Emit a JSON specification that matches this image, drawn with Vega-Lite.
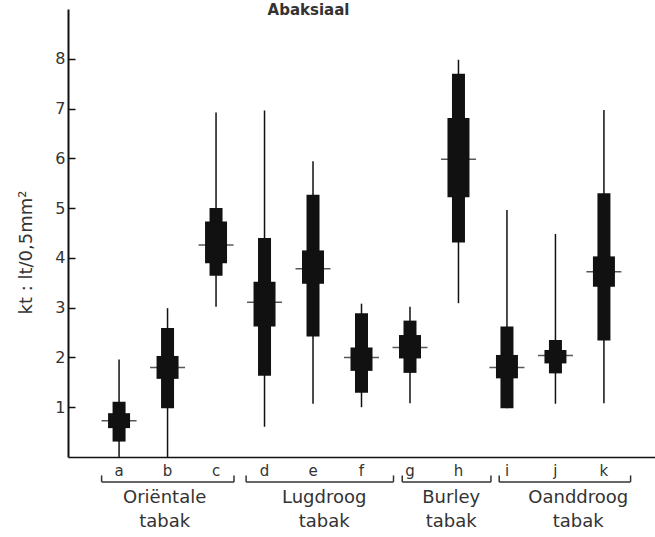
{
  "$schema": "https://vega.github.io/schema/vega-lite/v6.json",
  "autosize": {"type": "none"},
  "width": 587,
  "height": 448,
  "padding": {"left": 68, "top": 9, "right": 0, "bottom": 80},
  "background": "white",
  "config": {"view": {"stroke": null}, "font": "DejaVu Sans"},
  "title": {"text": "Abaksiaal", "anchor": "middle", "frame": "group", "dx": -53, "offset": -9, "fontSize": 15, "fontWeight": "bold", "color": "#333", "font": "DejaVu Sans"},
  "datasets": {
    "boxes": [
      {"cat": "a", "pos": 1, "min": 0, "max": 1.96, "lo": 0.31, "hi": 1.11, "lo2": 0.58, "hi2": 0.88, "mean": 0.73},
      {"cat": "b", "pos": 2, "min": 0, "max": 2.99, "lo": 0.98, "hi": 2.59, "lo2": 1.57, "hi2": 2.03, "mean": 1.80},
      {"cat": "c", "pos": 3, "min": 3.02, "max": 6.92, "lo": 3.64, "hi": 5.0, "lo2": 3.89, "hi2": 4.73, "mean": 4.26},
      {"cat": "d", "pos": 4, "min": 0.61, "max": 6.96, "lo": 1.63, "hi": 4.40, "lo2": 2.62, "hi2": 3.52, "mean": 3.11},
      {"cat": "e", "pos": 5, "min": 1.07, "max": 5.94, "lo": 2.42, "hi": 5.27, "lo2": 3.48, "hi2": 4.15, "mean": 3.78},
      {"cat": "f", "pos": 6, "min": 1.0, "max": 3.08, "lo": 1.29, "hi": 2.89, "lo2": 1.73, "hi2": 2.20, "mean": 2.00},
      {"cat": "g", "pos": 7, "min": 1.08, "max": 3.02, "lo": 1.69, "hi": 2.74, "lo2": 1.98, "hi2": 2.45, "mean": 2.20},
      {"cat": "h", "pos": 8, "min": 3.09, "max": 7.98, "lo": 4.31, "hi": 7.70, "lo2": 5.22, "hi2": 6.81, "mean": 5.98},
      {"cat": "i", "pos": 9, "min": 0.98, "max": 4.96, "lo": 0.98, "hi": 2.62, "lo2": 1.58, "hi2": 2.05, "mean": 1.80},
      {"cat": "j", "pos": 10, "min": 1.07, "max": 4.48, "lo": 1.68, "hi": 2.35, "lo2": 1.88, "hi2": 2.15, "mean": 2.04},
      {"cat": "k", "pos": 11, "min": 1.08, "max": 6.97, "lo": 2.34, "hi": 5.30, "lo2": 3.42, "hi2": 4.03, "mean": 3.72}
    ],
    "groups": [
      {"label": "Oriëntale\ntabak", "start": 0.64, "end": 3.37, "mid": 1.94},
      {"label": "Lugdroog\ntabak", "start": 3.62, "end": 6.66, "mid": 5.23},
      {"label": "Burley\ntabak", "start": 6.84, "end": 8.67, "mid": 7.85},
      {"label": "Oanddroog\ntabak", "start": 8.84, "end": 11.55, "mid": 10.47}
    ]
  },
  "layer": [
    {
      "data": {"name": "boxes"},
      "mark": {"type": "rule", "color": "#111", "strokeWidth": 1.5},
      "encoding": {
        "x": {"field": "pos", "type": "quantitative", "scale": {"domain": [0.05, 11.95], "nice": false, "zero": false},
              "axis": {"title": null, "labels": false, "ticks": false, "grid": false, "domainColor": "#111", "domainWidth": 1.5}},
        "y": {"field": "min", "type": "quantitative", "scale": {"domain": [0, 9], "nice": false, "zero": false},
              "axis": {"title": "kt : lt/0,5mm²", "values": [1, 2, 3, 4, 5, 6, 7, 8], "grid": false,
                       "domainColor": "#111", "domainWidth": 2, "tickColor": "#111", "tickWidth": 1.5, "tickSize": -7,
                       "labelPadding": 10, "labelFontSize": 16, "labelColor": "#333", "labelFont": "DejaVu Sans",
                       "titleFontSize": 18, "titleFont": "DejaVu Sans", "titleFontWeight": "normal", "titleColor": "#333",
                       "titleAngle": -90, "titleX": -42, "titleY": 243, "titleAlign": "center", "titleBaseline": "middle"}},
        "y2": {"field": "max"}
      }
    },
    {
      "data": {"name": "boxes"},
      "mark": {"type": "bar", "color": "#111", "size": 13},
      "encoding": {
        "x": {"field": "pos", "type": "quantitative"},
        "y": {"field": "lo", "type": "quantitative"},
        "y2": {"field": "hi"}
      }
    },
    {
      "data": {"name": "boxes"},
      "mark": {"type": "bar", "color": "#111", "size": 22},
      "encoding": {
        "x": {"field": "pos", "type": "quantitative"},
        "y": {"field": "lo2", "type": "quantitative"},
        "y2": {"field": "hi2"}
      }
    },
    {
      "data": {"name": "boxes"},
      "mark": {"type": "tick", "orient": "horizontal", "color": "#111", "size": 35, "thickness": 1.5},
      "encoding": {
        "x": {"field": "pos", "type": "quantitative"},
        "y": {"field": "mean", "type": "quantitative"}
      }
    },
    {
      "data": {"name": "boxes"},
      "mark": {"type": "text", "fontSize": 15, "color": "#333", "baseline": "alphabetic", "align": "center"},
      "encoding": {
        "x": {"field": "pos", "type": "quantitative"},
        "y": {"datum": -0.38},
        "text": {"field": "cat"}
      }
    },
    {
      "data": {"name": "groups"},
      "mark": {"type": "rule", "color": "#333", "strokeWidth": 1.5},
      "encoding": {
        "x": {"field": "start", "type": "quantitative"},
        "x2": {"field": "end"},
        "y": {"datum": -0.5}
      }
    },
    {
      "data": {"name": "groups"},
      "mark": {"type": "rule", "color": "#333", "strokeWidth": 1.5},
      "encoding": {
        "x": {"field": "start", "type": "quantitative"},
        "y": {"datum": -0.5},
        "y2": {"datum": -0.37}
      }
    },
    {
      "data": {"name": "groups"},
      "mark": {"type": "rule", "color": "#333", "strokeWidth": 1.5},
      "encoding": {
        "x": {"field": "end", "type": "quantitative"},
        "y": {"datum": -0.5},
        "y2": {"datum": -0.37}
      }
    },
    {
      "data": {"name": "groups"},
      "mark": {"type": "text", "fontSize": 18, "color": "#333", "baseline": "alphabetic", "align": "center", "lineBreak": "\n", "lineHeight": 23.5},
      "encoding": {
        "x": {"field": "mid", "type": "quantitative"},
        "y": {"datum": -0.93},
        "text": {"field": "label"}
      }
    }
  ]
}
